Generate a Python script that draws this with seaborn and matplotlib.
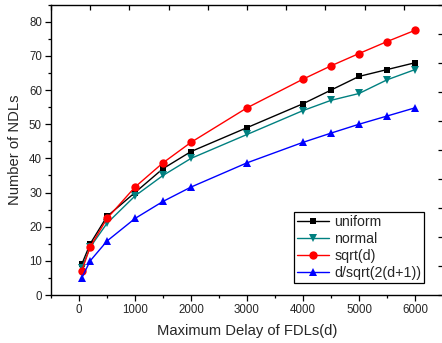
import matplotlib
matplotlib.use("Agg")
import matplotlib.pyplot as plt
from matplotlib.ticker import MultipleLocator
import seaborn as sns
import numpy as np

# Data
delay = [50, 200, 500, 1000, 1500, 2000, 3000, 4000, 4500, 5000, 5500, 6000]
uniform = [9, 15, 23, 30, 37, 42, 49, 56, 60, 64, 66, 68]
normal = [8, 14, 21, 29, 35, 40, 47, 54, 57, 59, 63, 66]
sqrt_d = [7.1, 14.1, 22.4, 31.6, 38.7, 44.7, 54.8, 63.2, 67.1, 70.7, 74.2, 77.5]
d_sqrt = [5.0, 10.0, 15.8, 22.4, 27.4, 31.6, 38.7, 44.7, 47.4, 50.0, 52.4, 54.8]

series = [
    ("uniform", uniform, "#000000", "s", 5.0),
    ("normal", normal, "#008080", "v", 6.0),
    ("sqrt(d)", sqrt_d, "#ff0000", "o", 6.0),
    ("d/sqrt(2(d+1))", d_sqrt, "#0000ff", "^", 6.0),
]

sns.set_style("white")
plt.rcParams["font.family"] = ["Liberation Sans", "DejaVu Sans"]

fig = plt.figure(figsize=(4.42, 3.43), dpi=100)
left = 51 / 442
bottom = 1 - 295 / 343
width = (443 - 51) / 442
height = (295 - 4.7) / 343
ax = fig.add_axes([left, bottom, width, height])

for name, vals, col, mk, ms in series:
    sns.lineplot(x=delay, y=vals, color=col, marker=mk, markersize=ms,
                 markeredgewidth=0, linewidth=1.0, label=name, ax=ax)

ax.set_xlim(-500, 6500)
ax.set_ylim(0, 85)
ax.xaxis.set_major_locator(MultipleLocator(1000))
ax.xaxis.set_minor_locator(MultipleLocator(500))
ax.yaxis.set_major_locator(MultipleLocator(10))
ax.yaxis.set_minor_locator(MultipleLocator(5))
ax.set_xticks([0, 1000, 2000, 3000, 4000, 5000, 6000])
ax.tick_params(axis="both", which="major", direction="out", length=4.0, width=0.9,
               labelsize=8.3, color="black", pad=2.5)
ax.tick_params(axis="both", which="minor", direction="out", length=2.2, width=0.9,
               color="black")
ax.tick_params(bottom=True, left=True, which="both")
for s in ax.spines.values():
    s.set_color("black")
    s.set_linewidth(1.0)

ax.set_xlabel("Maximum Delay of FDLs(d)", fontsize=10.6, labelpad=6)
ax.set_ylabel("Number of NDLs", fontsize=10.6, labelpad=5)

# Overlay for top/right inward ticks
ax2 = fig.add_axes([left, bottom, width, height], facecolor="none")
ax2.set_xlim(0, 10)
ax2.set_ylim(0, 10)
ax2.set_xticks(np.arange(0, 11))
ax2.set_yticks(np.arange(0, 11))
ax2.tick_params(axis="both", direction="in", length=3.5, width=0.9, color="black",
                top=True, right=True, bottom=False, left=False,
                labeltop=False, labelright=False, labelbottom=False, labelleft=False)
for s in ax2.spines.values():
    s.set_visible(False)
ax2.grid(False)

leg = ax.legend(loc="lower right", bbox_to_anchor=(0.952, 0.041), fontsize=10.2,
                frameon=True, fancybox=False, edgecolor="black", framealpha=1,
                handlelength=2.3, handletextpad=0.35, labelspacing=0.22,
                borderpad=0.2, borderaxespad=0)
leg.get_frame().set_linewidth(0.9)

fig.savefig("out.png", dpi=100)
